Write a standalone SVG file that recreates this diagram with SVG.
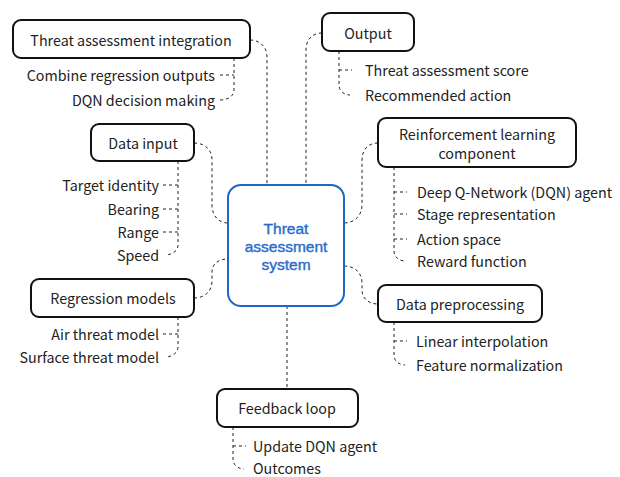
<svg xmlns="http://www.w3.org/2000/svg" width="620" height="477" viewBox="0 0 620 477">
<style>
.box{fill:#fff;stroke:#111;stroke-width:2}
.ctr{fill:#fff;stroke:#1f66c9;stroke-width:2}
.t{font-family:"Noto Sans CJK KR","Noto Sans",sans-serif;font-size:14.3px;fill:#222;dominant-baseline:central}
.tc{text-anchor:middle}
.te{text-anchor:end}
.blue{font-family:"Liberation Sans",Arial,sans-serif;fill:#2a6ccc;stroke:#2a6ccc;stroke-width:0.4;font-size:15.5px;font-weight:normal}
.c{fill:none;stroke:#222;stroke-width:1;stroke-dasharray:3 3}
</style>
<rect width="620" height="477" fill="#fff"/>
<g id="connectors">
<path class="c" d="M250,40 C260,40 267,47 267,57 V185"/>
<path class="c" d="M322,33 C312,33 306,40 306,50 V185"/>
<path class="c" d="M194,143 C205,143 212,150 212,160 V205 C212,215 218,223 228,223"/>
<path class="c" d="M194,298 C205,298 212,291 212,281 V272 C212,264 218,259 228,259"/>
<path class="c" d="M378,143 C368,143 362,150 362,160 V205 C362,215 355,223 344,223"/>
<path class="c" d="M344,266 C355,266 362,273 362,283 V290 C362,298 368,304 378,304"/>
<path class="c" d="M287,306 V389"/>
<path class="c" d="M234,58 V90 C234,96 228,100 220,100 M220,75 H234"/>
<path class="c" d="M339,51 V85 C339,91 344,95 350,95 M339,70 H352"/>
<path class="c" d="M178,161 V245 C178,251 172,255 165,255 M163,185 H178 M163,209 H178 M163,232 H178"/>
<path class="c" d="M178,317 V347 C178,353 172,357 165,357 M163,334 H178"/>
<path class="c" d="M394,167 V251 C394,257 399,261 405,261 M394,192 H407 M394,214 H407 M394,239 H407"/>
<path class="c" d="M394,322 V355 C394,361 399,365 405,365 M394,341 H407"/>
<path class="c" d="M233,427 V459 C233,465 238,469 244,469 M233,446 H246"/>
</g>
<g id="center">
<rect class="ctr" x="228" y="185" width="116" height="121" rx="13"/>
<text class="t tc blue" x="286" y="228"><tspan x="286" y="228">Threat</tspan><tspan x="286" y="246">assessment</tspan><tspan x="286" y="264">system</tspan></text>
</g>
<g id="integration">
<rect class="box" x="13" y="20" width="237" height="38" rx="8"/>
<text class="t tc" x="131" y="39">Threat assessment integration</text>
<text class="t te" x="215" y="74">Combine regression outputs</text>
<text class="t te" x="215" y="99">DQN decision making</text>
</g>
<g id="output">
<rect class="box" x="322" y="13" width="92" height="38" rx="8"/>
<text class="t tc" x="368" y="32">Output</text>
<text class="t" x="365" y="69">Threat assessment score</text>
<text class="t" x="365" y="94">Recommended action</text>
</g>
<g id="datainput">
<rect class="box" x="91" y="124" width="103" height="37" rx="8"/>
<text class="t tc" x="143" y="142">Data input</text>
<text class="t te" x="159" y="184">Target identity</text>
<text class="t te" x="159" y="208">Bearing</text>
<text class="t te" x="159" y="231">Range</text>
<text class="t te" x="159" y="254">Speed</text>
</g>
<g id="regression">
<rect class="box" x="31" y="279" width="163" height="38" rx="8"/>
<text class="t tc" x="113" y="297">Regression models</text>
<text class="t te" x="159" y="333">Air threat model</text>
<text class="t te" x="159" y="356">Surface threat model</text>
</g>
<g id="rl">
<rect class="box" x="378" y="118" width="198" height="49" rx="8"/>
<text class="t tc" x="477" y="133"><tspan x="477" y="133">Reinforcement learning</tspan><tspan x="477" y="152">component</tspan></text>
<text class="t" x="417" y="191">Deep Q-Network (DQN) agent</text>
<text class="t" x="417" y="213">Stage representation</text>
<text class="t" x="417" y="238">Action space</text>
<text class="t" x="417" y="260">Reward function</text>
</g>
<g id="preprocessing">
<rect class="box" x="378" y="285" width="164" height="37" rx="8"/>
<text class="t tc" x="460" y="303">Data preprocessing</text>
<text class="t" x="416" y="340">Linear interpolation</text>
<text class="t" x="416" y="364">Feature normalization</text>
</g>
<g id="feedback">
<rect class="box" x="217" y="389" width="141" height="38" rx="8"/>
<text class="t tc" x="287" y="407">Feedback loop</text>
<text class="t" x="253" y="445">Update DQN agent</text>
<text class="t" x="253" y="467">Outcomes</text>
</g>
</svg>
